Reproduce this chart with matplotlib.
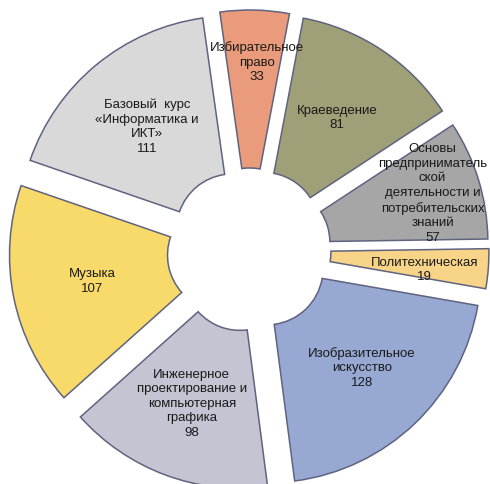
import matplotlib
matplotlib.use("Agg")
import matplotlib.pyplot as plt
import numpy as np

categories = [
    "Избирательное\nправо",
    "Краеведение",
    "Основы\nпредприниматель\nской\nдеятельности и\nпотребительских\nзнаний",
    "Политехническая",
    "Изобразительное\nискусство",
    "Инженерное\nпроектирование и\nкомпьютерная\nграфика",
    "Музыка",
    "Базовый  курс\n«Информатика и\nИКТ»",
]
values = [33, 81, 57, 19, 128, 98, 107, 111]
colors = ["#E99B7B", "#A0A078", "#A6A6A6", "#F8D488", "#97A8D2",
          "#C4C4D2", "#F8DA6A", "#D9D9D9"]

# layout (pixels)
W, H = 490, 484
CX, CY = 249, H - 250
R_OUT = 214
R_IN = 56
EXPL = 26
START = 98
label_r = [162, 133, 166, 151, 137, 138, 134, 134]
label_dang = [-1.2, 0, 0, -2.3, 0, 0, 0, 0]

plt.rcParams['font.family'] = ['Liberation Sans', 'DejaVu Sans']
fig = plt.figure(figsize=(W / 100, H / 100), dpi=100)
ax = fig.add_axes([0, 0, 1, 1])
wedges, _ = ax.pie(values, colors=colors, radius=R_OUT, center=(CX, CY),
                   explode=[EXPL] * len(values), startangle=START,
                   counterclock=False,
                   wedgeprops=dict(width=R_OUT - R_IN, edgecolor="#5F6380",
                                   linewidth=1.1))
for w, cat, v, lr, da in zip(wedges, categories, values, label_r, label_dang):
    mid = np.deg2rad((w.theta1 + w.theta2) / 2 + da)
    cx, cy = w.center
    x = cx + lr * np.cos(mid)
    y = cy + lr * np.sin(mid)
    ax.text(x, y, f"{cat}\n{v}", ha="center", va="center", fontsize=9.5,
            color="#1A1A1A", linespacing=1.28)
ax.set_xlim(0, W)
ax.set_ylim(0, H)
ax.set_aspect("equal")
ax.axis("off")
fig.savefig("out.png", dpi=100)
